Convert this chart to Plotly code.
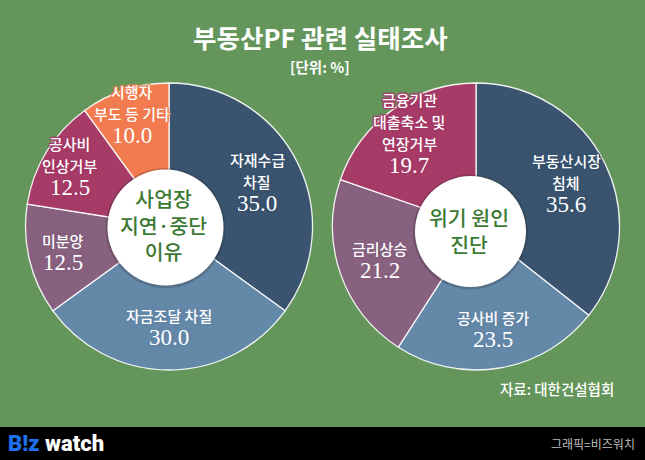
import math
import plotly.graph_objects as go

W, H = 645, 460
BG = "#64965C"

# ---------------- data ----------------
left_labels = [["자재수급", "차질"], ["자금조달 차질"], ["미분양"], ["공사비", "인상거부"], ["시행자", "부도 등 기타"]]
left_values = [35.0, 30.0, 12.5, 12.5, 10.0]
left_center_text = ["사업장", "지연·중단", "이유"]

right_labels = [["부동산시장", "침체"], ["공사비 증가"], ["금리상승"], ["금융기관", "대출축소 및", "연장거부"]]
right_values = [35.6, 23.5, 21.2, 19.7]
right_center_text = ["위기 원인", "진단"]

title_text = "부동산PF 관련 실태조사"
unit_text = "[단위: %]"
source_text = "자료: 대한건설협회"
credit_text = "그래픽=비즈워치"

# ---------------- styles ----------------
NAVY, LBLUE, MAUVE, CRIMSON, ORANGE = "#3A546F", "#6488A8", "#87617F", "#A63B67", "#F27C50"
left_colors = [NAVY, LBLUE, MAUVE, CRIMSON, ORANGE]
right_colors = [NAVY, LBLUE, MAUVE, CRIMSON]
left_label_radius = [0.69, 0.70, 0.76, 0.81, 0.83]
right_label_radius = [0.70, 0.72, 0.71, 0.80]

SANS = "Noto Sans CJK KR"
SERIF = "Liberation Serif"
GREEN_TXT = "#3C7A33"

pies = [
    dict(values=left_values, labels=left_labels, colors=left_colors, radius=left_label_radius,
         cx=169, cy=226.5, r=143.5, hole=(165.5, 227.5, 58), center=left_center_text, cty=225),
    dict(values=right_values, labels=right_labels, colors=right_colors, radius=right_label_radius,
         cx=476, cy=226.5, r=143.5, hole=(470.5, 231.5, 55.5), center=right_center_text, cty=230),
]


def px(x):
    return x / W


def py(y):
    return 1 - y / H


fig = go.Figure()
annotations = []
shapes = []

for p in pies:
    cx, cy, r = p["cx"], p["cy"], p["r"]
    fig.add_trace(go.Pie(
        values=p["values"],
        labels=[" ".join(l) for l in p["labels"]],
        sort=False, direction="clockwise", rotation=0,
        marker=dict(colors=p["colors"], line=dict(color="rgba(255,255,255,0.9)", width=1.3)),
        textinfo="none", hoverinfo="skip", showlegend=False,
        domain=dict(x=[px(cx - r), px(cx + r)], y=[py(cy + r), py(cy - r)]),
    ))
    total = sum(p["values"])
    cum = 0.0
    for lab, val, col, fr in zip(p["labels"], p["values"], p["colors"], p["radius"]):
        mid = (cum + val / 2) / total * 2 * math.pi
        cum += val
        lx = cx + fr * r * math.sin(mid)
        ly = cy - fr * r * math.cos(mid)
        lines = lab + [f"{val:.1f}"]
        n = len(lines)
        shadow = ", ".join(f"{a}px {b}px 1px {col}" for a in (-1, 0, 1) for b in (-1, 0, 1) if (a, b) != (0, 0))
        for i, line in enumerate(lines):
            yy = ly + (i - (n - 1) / 2) * 22
            is_num = i == n - 1
            annotations.append(dict(
                x=px(lx), y=py(yy), xref="paper", yref="paper", text=line, showarrow=False,
                xanchor="center", yanchor="middle",
                font=dict(family=SERIF if is_num else SANS, size=23 if is_num else 15,
                          color="white", weight=400 if is_num else 500, shadow=shadow),
            ))
    hx, hy, hr = p["hole"]
    shapes.append(dict(type="circle", xref="paper", yref="paper", layer="above",
                       x0=px(hx - hr - 2), x1=px(hx + hr + 2), y0=py(hy + hr + 2.5), y1=py(hy - hr - 1.5),
                       fillcolor="rgba(40,40,40,0.25)", line=dict(width=0)))
    shapes.append(dict(type="circle", xref="paper", yref="paper", layer="above",
                       x0=px(hx - hr), x1=px(hx + hr), y0=py(hy + hr), y1=py(hy - hr),
                       fillcolor="white", line=dict(width=0)))
    annotations.append(dict(
        x=px(hx - 2), y=py(p["cty"]), xref="paper", yref="paper", text="<br>".join(p["center"]),
        showarrow=False, xanchor="center", yanchor="middle", align="center",
        font=dict(family=SANS, size=20.5, color=GREEN_TXT, weight=500),
    ))

# footer bar
shapes.append(dict(type="rect", xref="paper", yref="paper", layer="above",
                   x0=0, x1=1, y0=0, y1=py(427), fillcolor="black", line=dict(width=0)))

annotations += [
    dict(x=px(320), y=py(37), xref="paper", yref="paper", text=title_text, showarrow=False,
         xanchor="center", yanchor="middle", font=dict(family=SANS, size=25.5, color="white", weight=700)),
    dict(x=px(320), y=py(66), xref="paper", yref="paper", text=unit_text, showarrow=False,
         xanchor="center", yanchor="middle", font=dict(family=SANS, size=14.5, color="white", weight=700)),
    dict(x=px(616), y=py(388), xref="paper", yref="paper", text=source_text, showarrow=False,
         xanchor="right", yanchor="middle", font=dict(family=SANS, size=14.5, color="white", weight=500)),
    dict(x=px(6), y=py(443), xref="paper", yref="paper",
         text="<span style='color:#1F6FEA'>B!z</span> watch", showarrow=False,
         xanchor="left", yanchor="middle", font=dict(family="Roboto", size=22, color="white", weight=900)),
    dict(x=px(637), y=py(443), xref="paper", yref="paper", text=credit_text, showarrow=False,
         xanchor="right", yanchor="middle", font=dict(family=SANS, size=12, color="#BDBDBD")),
]

fig.update_layout(
    width=W, height=H, margin=dict(l=0, r=0, t=0, b=0),
    paper_bgcolor=BG, plot_bgcolor=BG,
    annotations=annotations, shapes=shapes,
)

fig.write_html("out.html", config={"displayModeBar": False})
